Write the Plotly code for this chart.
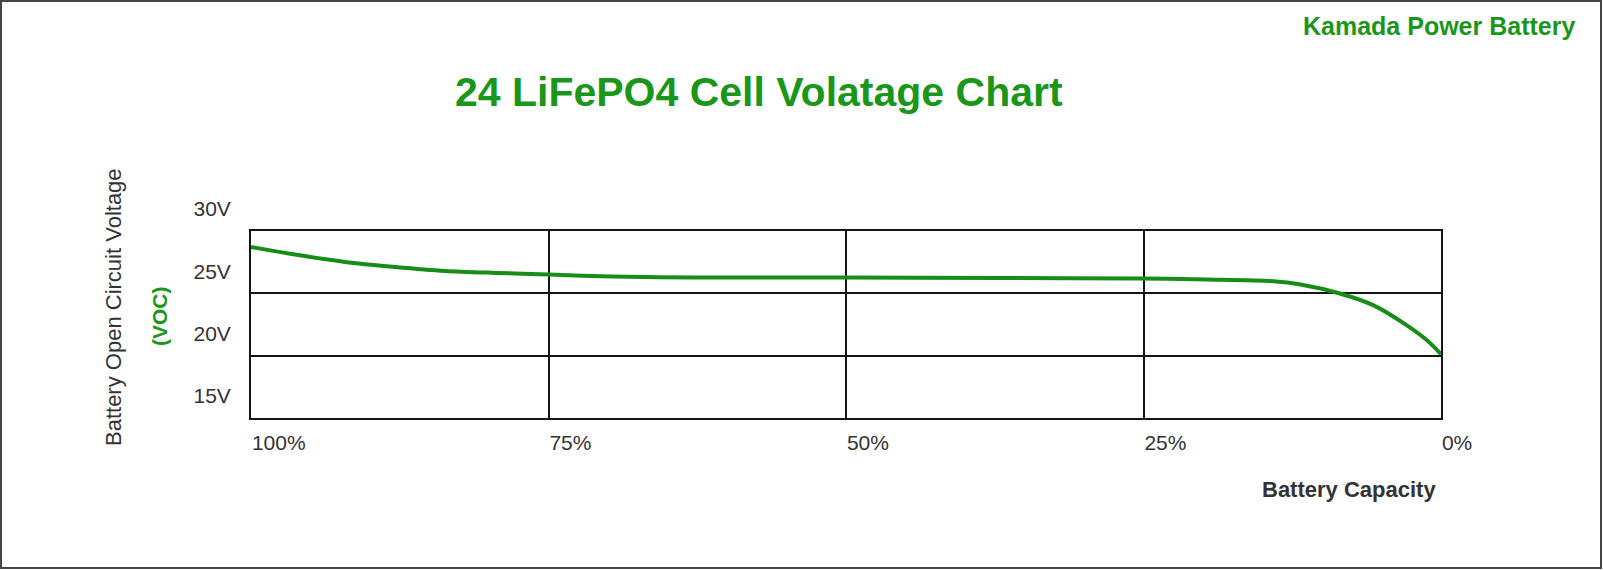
import plotly.graph_objects as go

# Data
capacity_pct = [100, 96.3, 92.1, 87.9, 83.7, 79.5, 75, 69.7, 62.7, 50, 37.1, 25.3, 19.7, 14.1, 11.8, 8.5, 5.7, 2.9, 1.2, 0]
voltage_v = [28.72, 28.11, 27.52, 27.12, 26.80, 26.64, 26.51, 26.35, 26.27, 26.27, 26.23, 26.19, 26.11, 25.97, 25.71, 24.99, 24.05, 22.45, 21.25, 20.12]

y_tick_vals = [15, 20, 25, 30]
y_tick_text = ["15V", "20V", "25V", "30V"]
x_tick_vals = [100, 75, 50, 25, 0]
x_tick_text = ["100%", "75%", "50%", "25%", "0%"]

FONT = "Arial, Liberation Sans, sans-serif"
GREEN = "#1a971a"
LINE_GREEN = "#178c17"
GRAY = "#333333"

fig = go.Figure()
fig.add_trace(go.Scatter(
    x=capacity_pct, y=voltage_v, mode="lines",
    line=dict(color=LINE_GREEN, width=4, shape="spline", smoothing=0.8),
    showlegend=False, hoverinfo="skip",
))

W, H = 1603, 571
L, R, T, B = 251, 1441, 231, 418

def px(x):
    return (x - L) / (R - L)

def py(y):
    return (B - y) / (B - T)

fig.update_layout(
    width=W, height=H,
    margin=dict(l=L, r=W - R, t=T, b=H - B),
    paper_bgcolor="white", plot_bgcolor="white",
    font=dict(family=FONT, size=21, color=GRAY),
    xaxis=dict(
        range=[100, 0], tickvals=x_tick_vals, ticktext=x_tick_text,
        showgrid=True, gridcolor="#151515", gridwidth=1.6,
        showline=True, mirror=True, linecolor="#151515", linewidth=1.8,
        zeroline=False, ticks="", ticklabelposition="outside right",
        tickfont=dict(size=21, color=GRAY, family=FONT),
        ticklabelstandoff=5,
    ),
    yaxis=dict(
        range=[15, 30], tickvals=y_tick_vals, ticktext=y_tick_text,
        showgrid=True, gridcolor="#151515", gridwidth=1.6,
        showline=True, mirror=True, linecolor="#151515", linewidth=1.8,
        zeroline=False, ticks="",
        tickfont=dict(size=21, color=GRAY, family=FONT),
        ticklabelshift=-22, ticklabelstandoff=14,
    ),
    shapes=[dict(
        type="rect", xref="paper", yref="paper",
        x0=px(1), x1=px(1601), y0=py(568), y1=py(1),
        line=dict(color="#444444", width=2), fillcolor="rgba(0,0,0,0)",
        layer="below",
    )],
    annotations=[
        dict(text="<b>24 LiFePO4 Cell Volatage Chart</b>", xref="paper", yref="paper",
             x=px(759), y=py(92), xanchor="center", yanchor="middle", showarrow=False,
             font=dict(size=41, color=GREEN, family=FONT)),
        dict(text="<b>Kamada Power Battery</b>", xref="paper", yref="paper",
             x=px(1577), y=py(26), xanchor="right", yanchor="middle", showarrow=False,
             font=dict(size=25, color=GREEN, family=FONT)),
        dict(text="Battery Open Circuit Voltage", xref="paper", yref="paper",
             x=px(113), y=py(307), xanchor="center", yanchor="middle", showarrow=False,
             textangle=-90, font=dict(size=22, color=GRAY, family=FONT)),
        dict(text="<b>(VOC)</b>", xref="paper", yref="paper",
             x=px(159), y=py(316), xanchor="center", yanchor="middle", showarrow=False,
             textangle=-90, font=dict(size=21, color=GREEN, family=FONT)),
        dict(text="<b>Battery Capacity</b>", xref="paper", yref="paper",
             x=px(1438), y=py(489), xanchor="right", yanchor="middle", showarrow=False,
             font=dict(size=22, color=GRAY, family=FONT)),
    ],
)

fig.write_html("out.html")
